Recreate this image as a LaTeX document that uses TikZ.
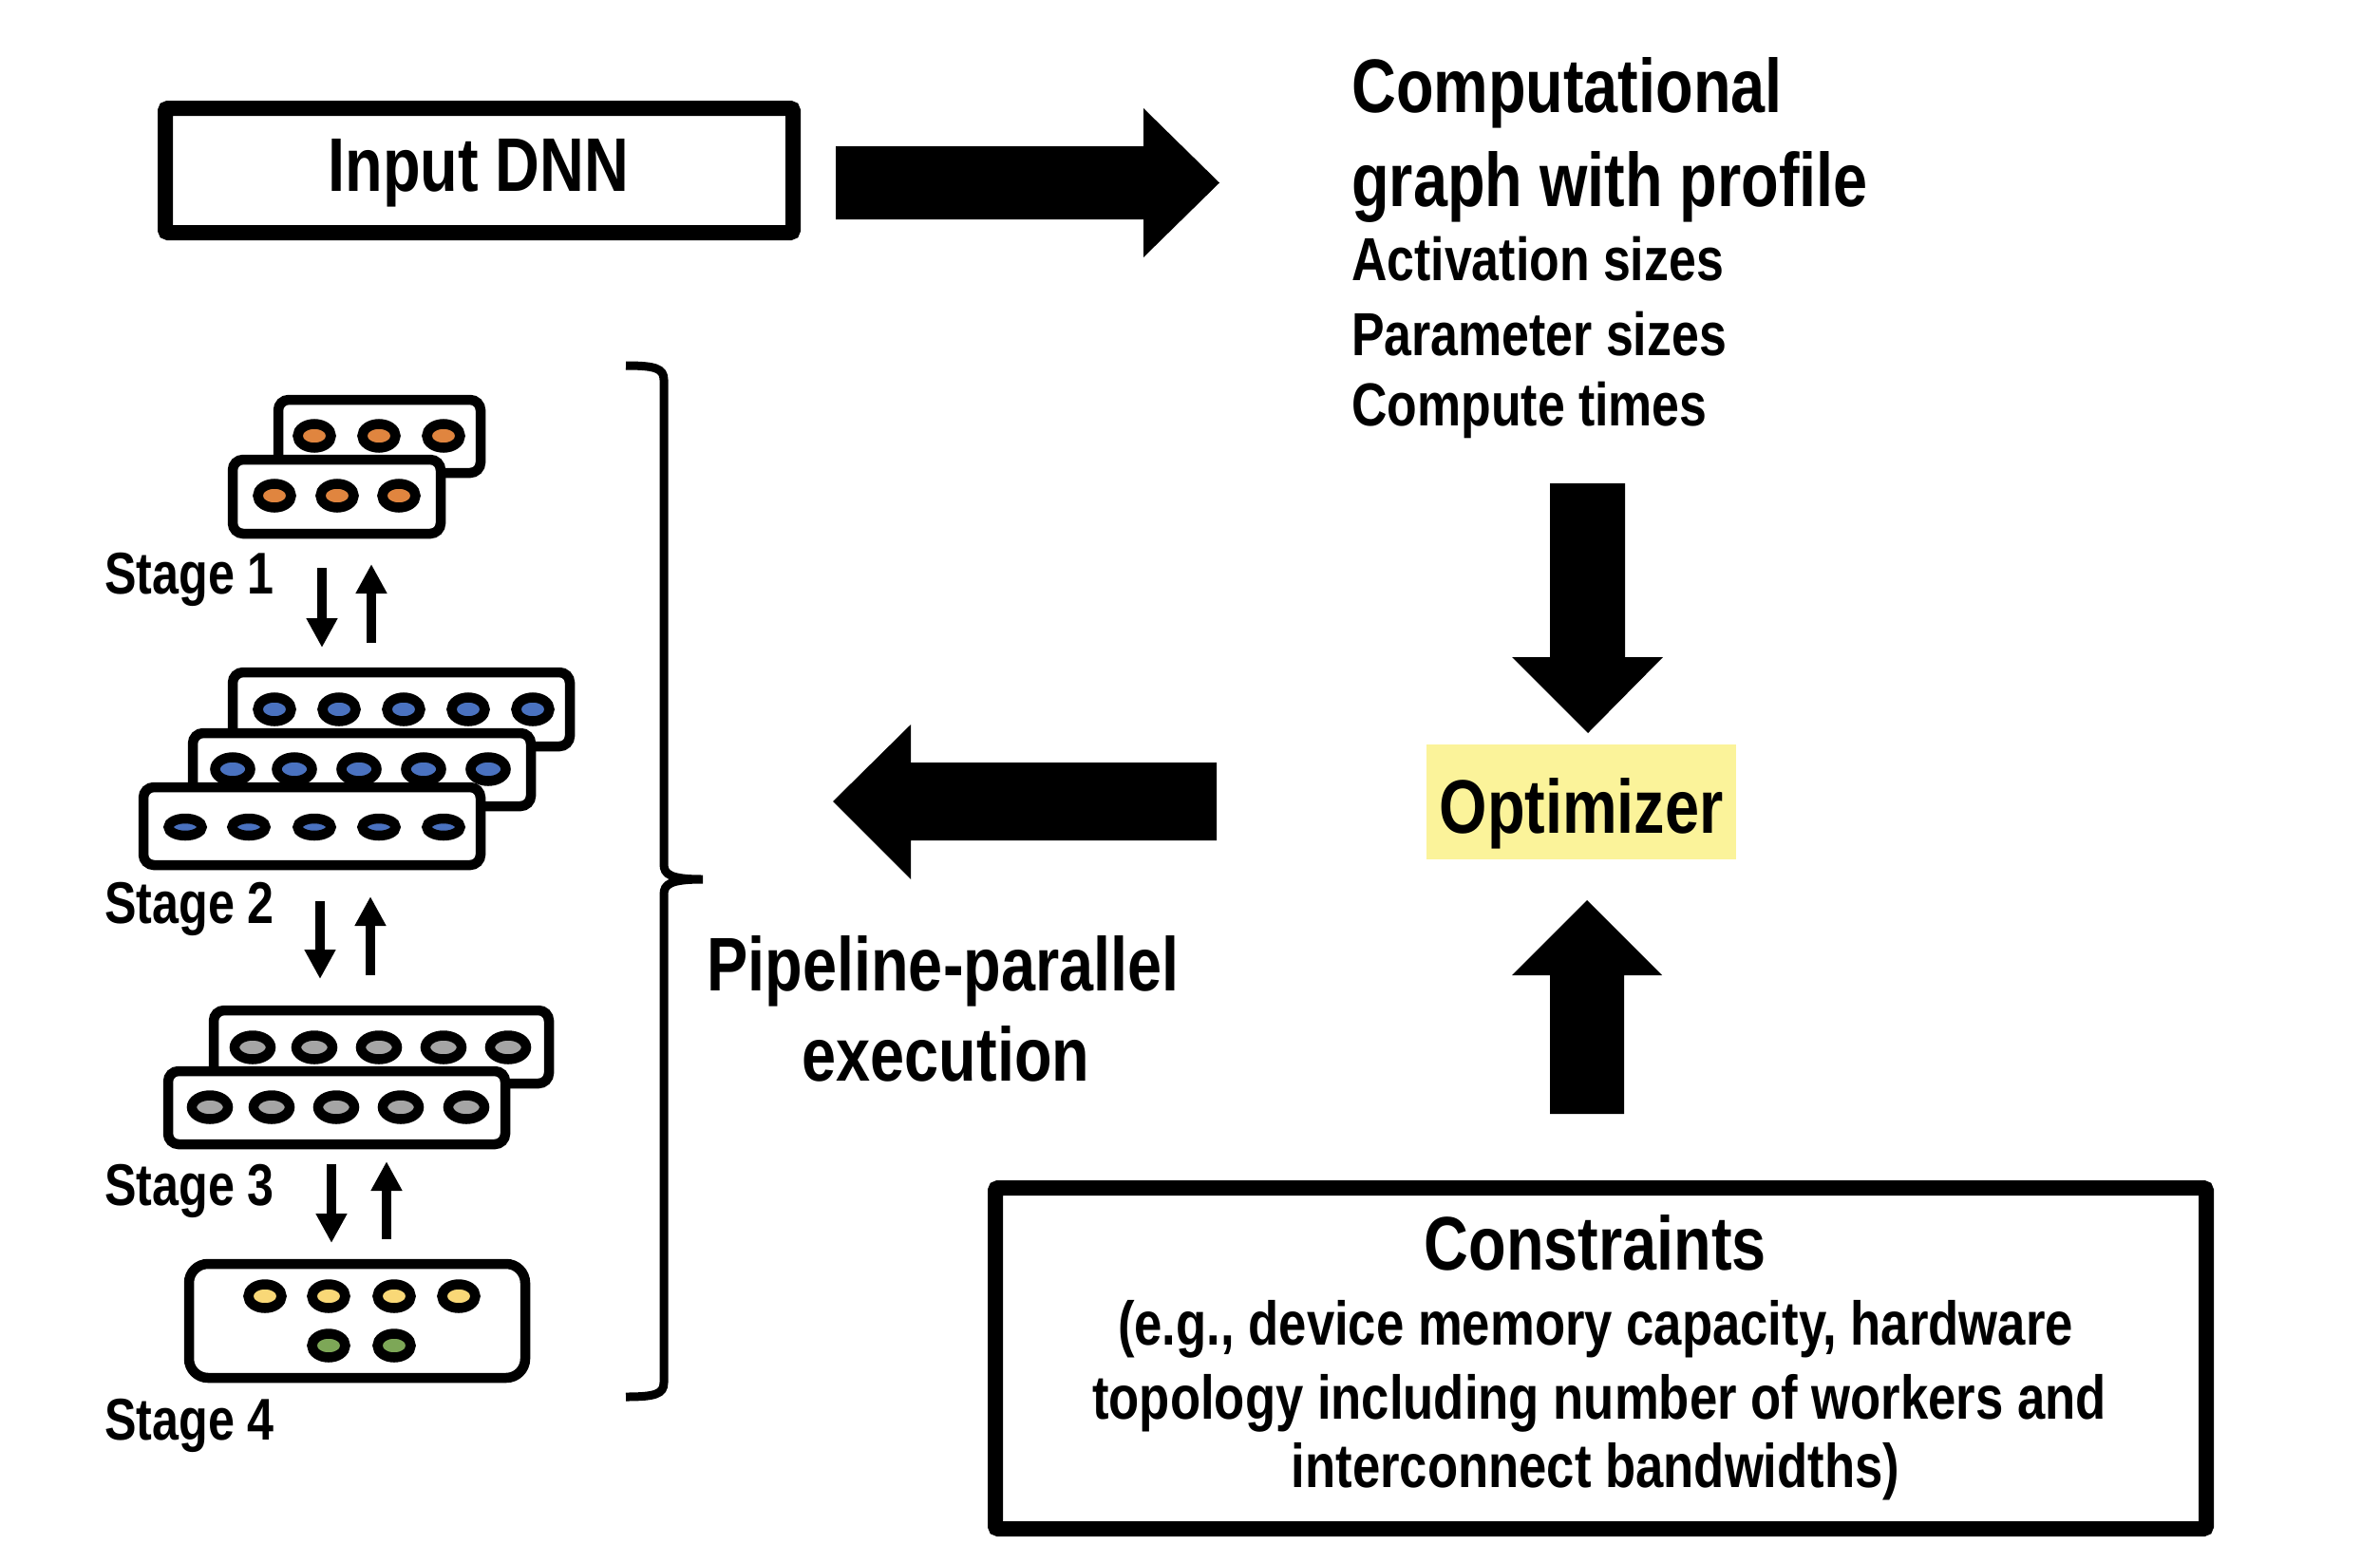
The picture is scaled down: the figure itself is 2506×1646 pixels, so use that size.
\documentclass[tikz,border=0pt]{standalone}
\usepackage{fontspec}
\setmainfont{Liberation Sans}[FakeStretch=0.81]
\usetikzlibrary{arrows.meta}
\definecolor{dorange}{HTML}{E0853F}
\definecolor{dblue}{HTML}{4A72C0}
\definecolor{dgray}{HTML}{A5A5A5}
\definecolor{dyellow}{HTML}{F9D877}
\definecolor{dgreen}{HTML}{7DA757}
\definecolor{optfill}{HTML}{FBF39A}
\begin{document}
\begin{tikzpicture}[x=1pt,y=-1pt,
  stagebox/.style={draw=black, fill=white, line width=10.5pt, rounded corners=11pt},
  dotline/.style={draw=black, line width=10.5pt},
  mainbox/.style={draw=black, fill=white, line width=16pt, rounded corners=3pt},
  bigarrow/.style={fill=black},
  smallarrow/.style={line width=10.5pt, -{Triangle[width=31pt,length=31pt]}},
  bigtxt/.style={font=\bfseries\fontsize{80}{96}\selectfont, inner sep=0pt},
  medtxt/.style={font=\bfseries\fontsize{64}{76}\selectfont, inner sep=0pt},
  stagetxt/.style={font=\bfseries\fontsize{62}{72}\selectfont, inner sep=0pt},
  smalltxt/.style={font=\bfseries\fontsize{65}{76}\selectfont, inner sep=0pt},
]
\useasboundingbox[fill=white] (0,0) rectangle (2506,1646);

% ---- Input DNN box
\draw[mainbox] (174,114) rectangle (835,245);
\node[bigtxt, anchor=base] (inp) at (504,201) {Input DNN};

% ---- right block arrow
\fill[bigarrow] (880,154) -- (1204,154) -- (1204,114) -- (1284,192.5) -- (1204,271) -- (1204,231) -- (880,231) -- cycle;

% ---- computational graph text
\node[bigtxt, anchor=base west] (cg1) at (1423,118) {Computational};
\node[bigtxt, anchor=base west] (cg2) at (1423,217) {graph with profile};
\node[medtxt, anchor=base west] (cg3) at (1423,295) {Activation sizes};
\node[medtxt, anchor=base west] (cg4) at (1423,374) {Parameter sizes};
\node[medtxt, anchor=base west] (cg5) at (1423,448) {Compute times};

% ---- down block arrow
\fill[bigarrow] (1632,509) -- (1711,509) -- (1711,692) -- (1751,692) -- (1672,772) -- (1592,692) -- (1632,692) -- cycle;

% ---- optimizer
\fill[optfill] (1502,784) rectangle (1828,905);
\node[bigtxt, anchor=base] (opt) at (1665,877) {Optimizer};

% ---- up block arrow
\fill[bigarrow] (1632,1173) -- (1710,1173) -- (1710,1027) -- (1750,1027) -- (1671,948) -- (1592,1027) -- (1632,1027) -- cycle;

% ---- left block arrow
\fill[bigarrow] (1281,803) -- (959,803) -- (959,763) -- (877,844) -- (959,926) -- (959,885) -- (1281,885) -- cycle;

% ---- constraints box
\draw[mainbox] (1048,1251) rectangle (2323,1610);
\node[bigtxt, anchor=base] (c1) at (1680,1337) {Constraints};
\node[smalltxt, anchor=base] (c2) at (1680,1416) {(e.g., device memory capacity, hardware};
\node[smalltxt, anchor=base] (c3) at (1684,1494) {topology including number of workers and};
\node[smalltxt, anchor=base] (c4) at (1680,1566) {interconnect bandwidths)};

% ---- pipeline text
\node[bigtxt, anchor=base] (p1) at (993,1043) {Pipeline-parallel};
\node[bigtxt, anchor=base] (p2) at (996,1138) {execution};

% ---- bracket
\draw[line width=9pt] (659,385) .. controls (690,385) and (699,388) .. (699,400)
  -- (699,910) .. controls (699,921) and (706,926) .. (740,926)
  .. controls (706,926) and (699,931) .. (699,942)
  -- (699,1456) .. controls (699,1468) and (690,1471) .. (659,1471);

% ---- Stage 1
\draw[stagebox] (293,421) rectangle (506,498);
\foreach \x in {331,399,467} \draw[dotline, fill=dorange] (\x,459) ellipse [x radius=17.5pt, y radius=12.5pt];
\draw[stagebox] (245,484) rectangle (464,562);
\foreach \x in {289,355,420} \draw[dotline, fill=dorange] (\x,522) ellipse [x radius=17.5pt, y radius=12.5pt];
\node[stagetxt, anchor=base west] (s1) at (110,625) {Stage 1};
\coordinate (a1s) at (339,598); \coordinate (a1e) at (339,682);
\coordinate (b1s) at (391,677); \coordinate (b1e) at (391,594);
\draw[smallarrow] (a1s) -- (a1e);
\draw[smallarrow] (b1s) -- (b1e);

% ---- Stage 2
\draw[stagebox] (245,708) rectangle (600,786);
\foreach \x in {289,357,425,493,561} \draw[dotline, fill=dblue] (\x,747) ellipse [x radius=17.5pt, y radius=12.5pt];
\draw[stagebox] (203,772) rectangle (559,849);
\foreach \x in {245,310,378,446,514} \draw[dotline, fill=dblue] (\x,810) ellipse [x radius=18.5pt, y radius=12.5pt];
\draw[stagebox] (151,829) rectangle (506,911);
\foreach \x in {195,262,331,399,467} \draw[dotline, fill=dblue] (\x,871) ellipse [x radius=17.5pt, y radius=9pt];
\node[stagetxt, anchor=base west] (s2) at (110,972) {Stage 2};
\coordinate (a2s) at (337,949); \coordinate (a2e) at (337,1031);
\coordinate (b2s) at (390,1027); \coordinate (b2e) at (390,944);
\draw[smallarrow] (a2s) -- (a2e);
\draw[smallarrow] (b2s) -- (b2e);

% ---- Stage 3
\draw[stagebox] (225,1064) rectangle (578,1141);
\foreach \x in {266,331,399,467,535} \draw[dotline, fill=dgray] (\x,1103) ellipse [x radius=19pt, y radius=12.5pt];
\draw[stagebox] (177,1128) rectangle (532,1205);
\foreach \x in {221,286,354,422,491} \draw[dotline, fill=dgray] (\x,1166) ellipse [x radius=19pt, y radius=12.5pt];
\node[stagetxt, anchor=base west] (s3) at (110,1269) {Stage 3};
\coordinate (a3s) at (349,1226); \coordinate (a3e) at (349,1309);
\coordinate (b3s) at (407,1305); \coordinate (b3e) at (407,1223);
\draw[smallarrow] (a3s) -- (a3e);
\draw[smallarrow] (b3s) -- (b3e);

% ---- Stage 4
\draw[stagebox, rounded corners=20pt] (199,1331) rectangle (553,1451);
\foreach \x in {279,346,415,483} \draw[dotline, fill=dyellow] (\x,1365) ellipse [x radius=17.5pt, y radius=12.5pt];
\foreach \x in {346,415} \draw[dotline, fill=dgreen] (\x,1417) ellipse [x radius=17.5pt, y radius=12.5pt];
\node[stagetxt, anchor=base west] (s4) at (110,1516) {Stage 4};
\end{tikzpicture}
\end{document}
